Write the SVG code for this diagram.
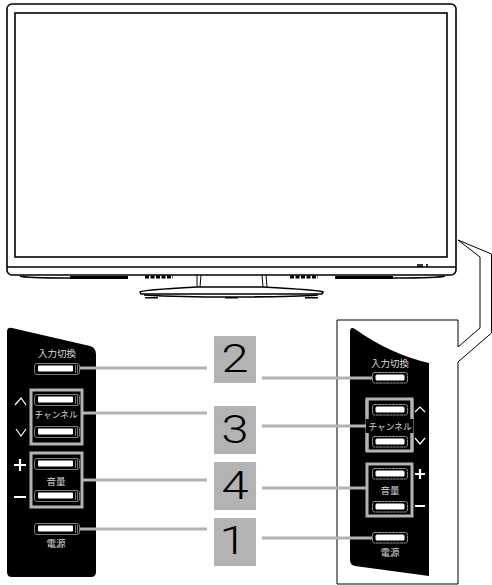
<svg xmlns="http://www.w3.org/2000/svg" width="492" height="585" viewBox="0 0 492 585">
<style>
.o{fill:none;stroke:#000;stroke-width:1.6}
.t{fill:none;stroke:#000;stroke-width:1}
.g{fill:none;stroke:#b3b3b3;stroke-width:3}
.w{fill:none;stroke:#fff;stroke-width:1.2}
.wt{fill:none;stroke:#fff;stroke-width:2.2}
.sq{fill:#b3b3b3}
.n{font-family:"Roboto","Liberation Sans",sans-serif;font-weight:300;font-size:39px;fill:#000;text-anchor:middle}
.l{font-family:"Noto Sans CJK JP","Noto Sans",sans-serif;fill:#d8d8d8;text-anchor:middle;font-size:9.500px}
.c{font-size:8.700px}
</style>
<defs>
<g id="bl"><rect x="0.5" y="0.5" width="45" height="11" rx="2.5" fill="#000" stroke="#9a9a9a" stroke-width="0.8"/><rect x="4" y="2.5" width="35" height="6" rx="1" fill="#fff"/><path d="M41.500 2v8M43.500 1.500v9" stroke="#9a9a9a" stroke-width="0.8" fill="none"/></g>
<g id="br"><rect x="0.5" y="0.5" width="35" height="10.500" rx="2" fill="#000" stroke="#bdbdbd" stroke-width="0.8" stroke-dasharray="3 0.5"/><rect x="3.500" y="2.500" width="29" height="6" rx="1.500" fill="#fff"/></g>
</defs>
<g id="tv">
<rect class="o" x="7" y="4" width="449" height="271" rx="5"/>
<rect class="o" x="15" y="13" width="432" height="244"/>
<path class="o" d="M7 267H456"/>
<path class="o" d="M20 276Q24 278 70 278M393 278Q440 278 445 276"/>
<path d="M70 276H128V279H70ZM335 276H393V279H335Z" fill="#000"/>
<path d="M145 277H173M290 277H318" stroke="#000" stroke-width="3" stroke-dasharray="4 1.500" fill="none"/>
<path d="M197 275L197 287M201 275L200 287M262 275L263 287M266 275L267 287" class="t"/>
<path class="o" d="M140 292Q141 290 197 287H263Q320 290 323 292L322 294H141Z"/>
<path class="o" d="M144 295Q180 297 230 297Q290 297 318 295"/>
<path d="M145 297H158V298.500H145ZM225 297H238V298.500H225ZM305 297H318V298.500H305Z" fill="#000"/>
<path d="M417 264H423V267H417ZM426 264H428V267H426Z" fill="#000" opacity="0.8"/>
</g>
<g id="callout">
<path class="t" d="M458 240L480 257V328L458 347V320H337V584H458V362L491.500 333V254L458 240"/>
</g>
<g id="panel-left">
<path d="M7 332Q7 327 12 328L90 346Q96 348 96 354V572Q96 577 91 577H12Q7 577 7 572Z" fill="#000"/>
<text class="l" x="57" y="357">入力切換</text>
<use href="#bl" x="34" y="363"/>
<use href="#bl" x="34" y="394"/>
<use href="#bl" x="34" y="426"/>
<use href="#bl" x="34" y="458"/>
<use href="#bl" x="34" y="490"/>
<use href="#bl" x="34" y="523"/>
<path class="w" d="M15 405L21 398L26 405M16 429L21 436L26 429"/>
<path class="wt" d="M14 465H26M20 459V471M14 497H26"/>
<rect class="g" x="31" y="390" width="51" height="54"/>
<rect class="g" x="31" y="453" width="51" height="54"/>
<text class="l c" x="56" y="418">チャンネル</text>
<text class="l" x="56" y="485">音量</text>
<text class="l" x="56" y="547">電源</text>
</g>
<g id="panel-right">
<path d="M350 332Q350 326 355 329Q390 354 429 363V576L355 566Q350 565 350 560Z" fill="#000"/>
<text class="l" x="390" y="367">入力切換</text>
<use href="#br" x="372" y="372"/>
<use href="#br" x="372" y="404"/>
<use href="#br" x="372" y="436"/>
<use href="#br" x="372" y="468"/>
<use href="#br" x="372" y="501"/>
<use href="#br" x="372" y="532"/>
<path class="w" d="M415 412L420 407L425 412M415 438L420 444L425 438"/>
<path class="wt" d="M415 474H425M420 469V479M415 506H425"/>
<rect class="g" x="367" y="399" width="45" height="52"/>
<rect class="g" x="367" y="464" width="45" height="52"/>
<path d="M366 419H413V433H366Z" fill="#000"/>
<path d="M367 399V419M412 399V419M367 433V451M412 433V451" class="g"/>
<text class="l c" x="390" y="430">チャンネル</text>
<text class="l" x="390" y="494">音量</text>
<text class="l" x="390" y="556">電源</text>
</g>
<g id="connectors">
<path class="g" d="M80 368H207M83 413H207M83 480H207M80 529H207M262 378H372M262 426H366M262 488H366M262 538H372"/>
</g>
<g id="n2"><rect class="sq" x="214" y="336" width="42" height="47"/><text class="n" transform="translate(235 372) scale(1.250 1)">2</text></g>
<g id="n3"><rect class="sq" x="214" y="406" width="42" height="48"/><text class="n" transform="translate(235 443) scale(1.250 1)">3</text></g>
<g id="n4"><rect class="sq" x="214" y="462" width="42" height="48"/><text class="n" transform="translate(235 499) scale(1.250 1)">4</text></g>
<g id="n1"><rect class="sq" x="214" y="518" width="42" height="48"/><text class="n" transform="translate(233 554) scale(1.250 1)">1</text></g>
</svg>
